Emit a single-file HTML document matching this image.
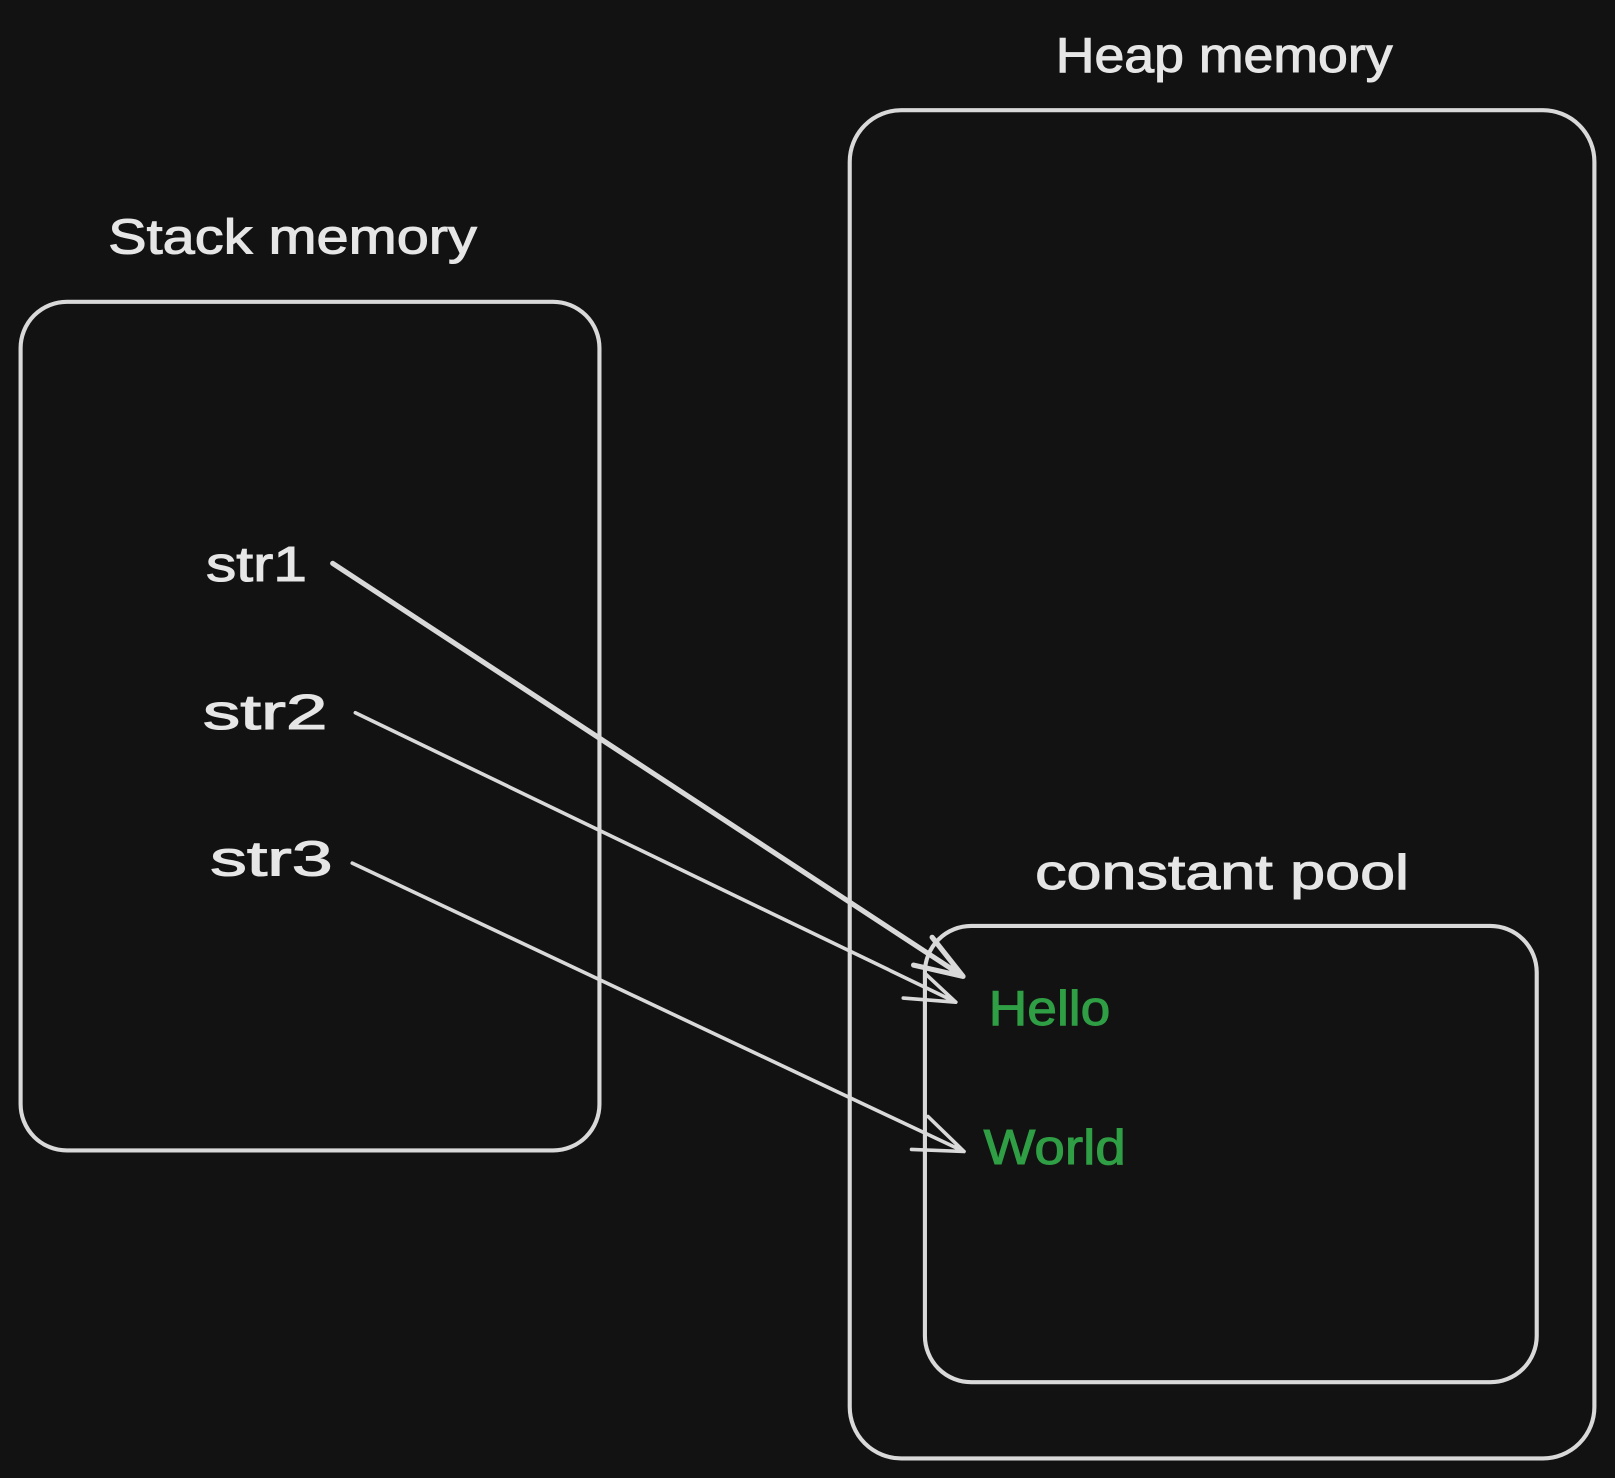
<!DOCTYPE html>
<html><head><meta charset="utf-8"><style>
html,body{margin:0;padding:0;background:#121212;}
svg{display:block;}
text{font-family:"Liberation Sans",sans-serif;}
</style></head><body>
<svg width="1615" height="1478" viewBox="0 0 1568 1435" preserveAspectRatio="none" xmlns="http://www.w3.org/2000/svg">
<rect width="1568" height="1435" fill="#121212"/>
<g fill="none" stroke="#d9d9d9" stroke-width="4" stroke-linecap="round" stroke-linejoin="round">
<rect x="20" y="293" width="562" height="824" rx="45"/>
<rect x="825" y="107" width="723" height="1309" rx="50"/>
<rect x="898" y="899" width="594" height="443" rx="45"/>
<path d="M323 547 L935 948 M905 910 L935 948 L887 937" stroke-width="5"/>
<path d="M345 692 L928 973 M898 945 L928 973 L877 969" stroke-width="3.5"/>
<path d="M342 838 L936 1118 M901 1084 L936 1118 L885 1116" stroke-width="3.5"/>
</g>
<g fill="#e6e6e6" font-size="48" stroke="#e6e6e6" stroke-width="1" lengthAdjust="spacingAndGlyphs">
<text x="105" y="246" textLength="358" lengthAdjust="spacingAndGlyphs">Stack memory</text>
<text x="1025" y="70" textLength="327" lengthAdjust="spacingAndGlyphs">Heap memory</text>
<text x="1005" y="863" textLength="363" lengthAdjust="spacingAndGlyphs">constant pool</text>
<text x="200" y="564" textLength="98" lengthAdjust="spacingAndGlyphs">str1</text>
<text x="197" y="708" textLength="121" lengthAdjust="spacingAndGlyphs">str2</text>
<text x="204" y="850" textLength="119" lengthAdjust="spacingAndGlyphs">str3</text>
</g>
<g fill="#2f9e44" font-size="48" stroke="#2f9e44" stroke-width="1">
<text x="960" y="995" textLength="118" lengthAdjust="spacingAndGlyphs">Hello</text>
<text x="955" y="1130" textLength="138" lengthAdjust="spacingAndGlyphs">World</text>
</g>
</svg>
</body></html>
